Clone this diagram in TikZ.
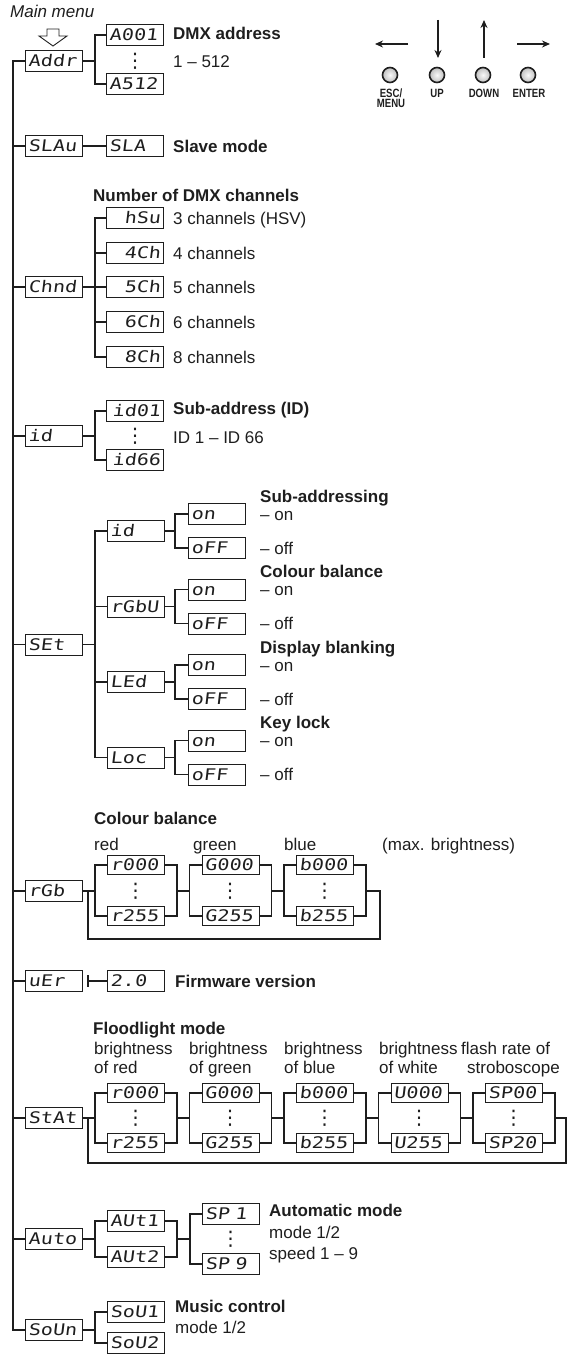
\documentclass[tikz,border=0pt]{standalone}
\usepackage{fontspec}
\setmainfont{Liberation Sans}
\newfontfamily\segfont{DejaVu Sans Mono}[FakeStretch=1.25,FakeSlant=0.12]
\newfontfamily\dotsfont{DejaVu Sans}
\newfontfamily\condfont{Liberation Sans}[FakeStretch=0.8]
\usetikzlibrary{arrows.meta}
\definecolor{ink}{HTML}{1E1E1E}
\tikzset{
  disp/.style={draw=ink, line width=0.9pt, minimum width=57pt, minimum height=21pt,
    inner sep=0pt, text width=51pt, align=left, text height=11.5pt, text depth=0pt,
    font=\segfont\fontsize{16}{16}\selectfont, anchor=west, text=ink},
  dispr/.style={disp, align=right},
  val/.style={disp, minimum height=19pt},
  conn/.style={draw=ink, line width=1.4pt},
  lbl/.style={anchor=west, inner sep=0pt, text height=12pt, text depth=0pt,
    font=\fontsize{17}{20}\selectfont, text=ink},
  head/.style={lbl, font=\bfseries\fontsize{17}{20}\selectfont},
  vd/.style={inner sep=0pt, font=\dotsfont\fontsize{20}{20}\selectfont, text=ink},
  btn/.style={circle, minimum size=15pt, inner sep=0pt, draw=ink, line width=1.6pt,
    inner color=gray!5, outer color=gray!50},
  btnlbl/.style={inner sep=0pt, anchor=north, font=\condfont\bfseries\fontsize{12}{11}\selectfont,
    align=center, text=ink},
  key/.style={draw=ink, line width=1.3pt, -{Stealth[length=8pt,width=7pt]}},
}
\begin{document}
\begin{tikzpicture}[x=1pt,y=-1pt]
\useasboundingbox (0,0) rectangle (568,1354);
\coordinate (m) at (13,0);
\coordinate (b1) at (95,0);
\coordinate (b2) at (175,0);

% ---------- top ----------
\node[lbl, font=\itshape\fontsize{17}{20}\selectfont] (mainmenu) at (10,12) {Main menu};
\draw[ink, line width=0.9pt] (47,29) -- (59,29) -- (59,36) -- (67,36) -- (53,46) -- (39,36) -- (47,36) -- cycle;

\node[btn] (esc) at (390,75) {};
\node[btn] (upb) at (437,75) {};
\node[btn] (downb) at (483,75) {};
\node[btn] (enterb) at (528,75) {};
\node[btnlbl] (escl) at (391,89) {ESC/\\[-1.5pt]MENU};
\node[btnlbl] (upl) at (437,89) {UP};
\node[btnlbl] (downl) at (484,89) {DOWN};
\node[btnlbl] (enterl) at (529,89) {ENTER};
\coordinate (la1) at (408,44); \coordinate (la2) at (375,44);
\coordinate (da1) at (438,20); \coordinate (da2) at (438,58);
\coordinate (ua1) at (484,58); \coordinate (ua2) at (484,20);
\coordinate (ra1) at (517,44); \coordinate (ra2) at (550,44);
\draw[key] (la1) -- (la2);
\draw[key] (da1) -- (da2);
\draw[key] (ua1) -- (ua2);
\draw[key] (ra1) -- (ra2);

% ---------- Addr ----------
\node[disp] (addr) at (25,61) {Addr};
\node[disp] (a001) at (106,35) {A001};
\node[disp] (a512) at (106,84) {A512};
\node[vd] (d1) at (135,61) {⋮};
\node[head] (t1) at (173,34) {DMX address};
\node[lbl] (t2) at (173,61) {1 – 512};
\draw[conn] (addr.east) -- (addr.east -| b1);
\draw[conn] (a001.west) -| (b1 |- a512.west) -- (a512.west);

% ---------- SLAu ----------
\node[disp] (slau) at (25,146) {SLAu};
\node[disp] (sla) at (106,146) {SLA};
\draw[conn] (slau.east) -- (sla.west);
\node[head] (t3) at (173,146) {Slave mode};

% ---------- Chnd ----------
\node[head] (t4) at (93,195) {Number of DMX channels};
\node[disp] (chnd) at (25,287) {Chnd};
\node[dispr] (hsu) at (106,218) {hSu};
\node[dispr] (c4) at (106,253) {4Ch};
\node[dispr] (c5) at (106,287) {5Ch};
\node[dispr] (c6) at (106,322) {6Ch};
\node[dispr] (c8) at (106,357) {8Ch};
\node[lbl] at (173,218) {3 channels (HSV)};
\node[lbl] at (173,253) {4 channels};
\node[lbl] at (173,287) {5 channels};
\node[lbl] at (173,322) {6 channels};
\node[lbl] at (173,357) {8 channels};
\draw[conn] (chnd.east) -- (c5.west);
\draw[conn] (hsu.west) -| (b1 |- c8.west) -- (c8.west);
\draw[conn] (c4.west) -- (c4.west -| b1);
\draw[conn] (c6.west) -- (c6.west -| b1);

% ---------- id ----------
\node[disp] (id) at (25,436) {id};
\node[dispr] (id01) at (106,411) {id01};
\node[dispr] (id66) at (106,460) {id66};
\node[vd] (d2) at (135,436) {⋮};
\node[head] at (173,408) {Sub-address (ID)};
\node[lbl] at (173,437) {ID 1 – ID 66};
\draw[conn] (id.east) -- (id.east -| b1);
\draw[conn] (id01.west) -| (b1 |- id66.west) -- (id66.west);

% ---------- SEt ----------
\node[disp] (set) at (25,644.5) {SEt};
\node[disp] (sid) at (107,531) {id};
\node[disp] (rgbu) at (107,606.5) {rGbU};
\node[disp] (led) at (107,682) {LEd};
\node[disp] (loc) at (107,757.5) {Loc};
\draw[conn] (set.east) -- (set.east -| b1);
\draw[conn] (sid.west) -| (b1 |- loc.west) -- (loc.west);
\draw[conn] (rgbu.west) -- (rgbu.west -| b1);
\draw[conn] (led.west) -- (led.west -| b1);

\node[disp] (on1) at (188,514) {on};
\node[disp] (off1) at (188,548) {oFF};
\node[disp] (on2) at (188,589.5) {on};
\node[disp] (off2) at (188,623.5) {oFF};
\node[disp] (on3) at (188,665) {on};
\node[disp] (off3) at (188,699) {oFF};
\node[disp] (on4) at (188,740.5) {on};
\node[disp] (off4) at (188,774.5) {oFF};

\draw[conn] (sid.east) -- (sid.east -| b2);
\draw[conn] (on1.west) -| (b2 |- off1.west) -- (off1.west);
\draw[conn] (rgbu.east) -- (rgbu.east -| b2);
\draw[conn] (on2.west) -| (b2 |- off2.west) -- (off2.west);
\draw[conn] (led.east) -- (led.east -| b2);
\draw[conn] (on3.west) -| (b2 |- off3.west) -- (off3.west);
\draw[conn] (loc.east) -- (loc.east -| b2);
\draw[conn] (on4.west) -| (b2 |- off4.west) -- (off4.west);

\node[head] at (260,496) {Sub-addressing};
\node[lbl] at (260,514) {– on};
\node[lbl] at (260,548) {– off};
\node[head] at (260,571.5) {Colour balance};
\node[lbl] at (260,589.5) {– on};
\node[lbl] at (260,623.5) {– off};
\node[head] at (260,647) {Display blanking};
\node[lbl] at (260,665) {– on};
\node[lbl] at (260,699) {– off};
\node[head] at (260,722.5) {Key lock};
\node[lbl] at (260,740.5) {– on};
\node[lbl] at (260,774.5) {– off};

% ---------- rGb ----------
\node[head] at (94,818) {Colour balance};
\node[lbl] at (94,844) {red};
\node[lbl] at (193,844) {green};
\node[lbl] at (284,844) {blue};
\node[lbl] at (382,844) {(max. brightness)};
\node[disp] (rgb) at (25,891) {rGb};
\node[val] (r0) at (107,865) {r000};
\node[val] (r1) at (107,916) {r255};
\node[val] (g0) at (201.5,865) {G000};
\node[val] (g1) at (201.5,916) {G255};
\node[val] (bb0) at (296,865) {b000};
\node[val] (bb1) at (296,916) {b255};
\node[vd] at (135.5,891) {⋮};
\node[vd] at (230,891) {⋮};
\node[vd] at (324.5,891) {⋮};
\coordinate (rL0) at (95,891);
\coordinate (rR0) at (177,891);
\coordinate (rL1) at (189.5,891);
\coordinate (rR1) at (271.5,891);
\coordinate (rL2) at (284,891);
\coordinate (rR2) at (366,891);
\coordinate (rLa) at (88,891);
\coordinate (rLb) at (380,891);
\draw[conn] (rgb.east) -- (rL0);
\draw[conn] (r0.west) -| (rL0 |- r1.west) -- (r1.west);
\draw[conn] (r0.east) -| (rR0 |- r1.east) -- (r1.east);
\draw[conn] (rR0) -- (rL1);
\draw[conn] (g0.west) -| (rL1 |- g1.west) -- (g1.west);
\draw[conn] (g0.east) -| (rR1 |- g1.east) -- (g1.east);
\draw[conn] (rR1) -- (rL2);
\draw[conn] (bb0.west) -| (rL2 |- bb1.west) -- (bb1.west);
\draw[conn] (bb0.east) -| (rR2 |- bb1.east) -- (bb1.east);
\draw[conn] (rR2) -- (rLb) -- ++(0,48) -| (rLa);

% ---------- uEr ----------
\node[disp] (uer) at (25,981) {uEr};
\node[disp] (v20) at (107,981) {2.0};
\coordinate (ut) at (88,981);
\draw[conn] (ut) -- (v20.west);
\draw[conn] (ut) ++(0,-6) -- ++(0,12);
\node[head] at (175,981) {Firmware version};

% ---------- StAt ----------
\node[head] at (93,1028) {Floodlight mode};
\node[lbl] at (94,1048) {brightness};
\node[lbl] at (189,1048) {brightness};
\node[lbl] at (284,1048) {brightness};
\node[lbl] at (379,1048) {brightness};
\node[lbl] at (461,1048) {flash rate of};
\node[lbl] at (94,1067) {of red};
\node[lbl] at (189,1067) {of green};
\node[lbl] at (284,1067) {of blue};
\node[lbl] at (379,1067) {of white};
\node[lbl] at (467,1067) {stroboscope};
\node[disp] (stat) at (25,1118) {StAt};
\node[val] (s0a) at (107,1093) {r000};
\node[val] (s0b) at (107,1143) {r255};
\node[val] (s1a) at (201.5,1093) {G000};
\node[val] (s1b) at (201.5,1143) {G255};
\node[val] (s2a) at (296,1093) {b000};
\node[val] (s2b) at (296,1143) {b255};
\node[val] (s3a) at (390.5,1093) {U000};
\node[val] (s3b) at (390.5,1143) {U255};
\node[val] (s4a) at (485,1093) {SP00};
\node[val] (s4b) at (485,1143) {SP20};
\node[vd] at (135.5,1118) {⋮};
\node[vd] at (230,1118) {⋮};
\node[vd] at (324.5,1118) {⋮};
\node[vd] at (419,1118) {⋮};
\node[vd] at (513.5,1118) {⋮};
\coordinate (sL0) at (95,1118);
\coordinate (sR0) at (177,1118);
\coordinate (sL1) at (189.5,1118);
\coordinate (sR1) at (271.5,1118);
\coordinate (sL2) at (284,1118);
\coordinate (sR2) at (366,1118);
\coordinate (sL3) at (378.5,1118);
\coordinate (sR3) at (460.5,1118);
\coordinate (sL4) at (473,1118);
\coordinate (sR4) at (555,1118);
\coordinate (sLa) at (88,1118);
\coordinate (sLb) at (566,1118);
\draw[conn] (stat.east) -- (sL0);
\draw[conn] (s0a.west) -| (sL0 |- s0b.west) -- (s0b.west);
\draw[conn] (s0a.east) -| (sR0 |- s0b.east) -- (s0b.east);
\draw[conn] (sR0) -- (sL1);
\draw[conn] (s1a.west) -| (sL1 |- s1b.west) -- (s1b.west);
\draw[conn] (s1a.east) -| (sR1 |- s1b.east) -- (s1b.east);
\draw[conn] (sR1) -- (sL2);
\draw[conn] (s2a.west) -| (sL2 |- s2b.west) -- (s2b.west);
\draw[conn] (s2a.east) -| (sR2 |- s2b.east) -- (s2b.east);
\draw[conn] (sR2) -- (sL3);
\draw[conn] (s3a.west) -| (sL3 |- s3b.west) -- (s3b.west);
\draw[conn] (s3a.east) -| (sR3 |- s3b.east) -- (s3b.east);
\draw[conn] (sR3) -- (sL4);
\draw[conn] (s4a.west) -| (sL4 |- s4b.west) -- (s4b.west);
\draw[conn] (s4a.east) -| (sR4 |- s4b.east) -- (s4b.east);
\draw[conn] (sR4) -- (sLb) -- ++(0,45) -| (sLa);

% ---------- Auto ----------
\node[disp] (auto) at (25,1239) {Auto};
\node[disp] (aut1) at (107,1221) {AUt1};
\node[disp] (aut2) at (107,1257) {AUt2};
\node[disp] (sp1) at (202,1214) {SP 1};
\node[disp] (sp9) at (202,1264) {SP 9};
\node[vd] at (230.5,1239) {⋮};
\coordinate (aL) at (95,1239);
\coordinate (aR) at (177,1239);
\coordinate (aL2) at (190,1239);
\draw[conn] (auto.east) -- (aL);
\draw[conn] (aut1.west) -| (aL |- aut2.west) -- (aut2.west);
\draw[conn] (aut1.east) -| (aR |- aut2.east) -- (aut2.east);
\draw[conn] (aR) -- (aL2);
\draw[conn] (sp1.west) -| (aL2 |- sp9.west) -- (sp9.west);
\node[head] at (269,1210) {Automatic mode};
\node[lbl] at (269,1232) {mode 1/2};
\node[lbl] at (269,1253) {speed 1 – 9};

% ---------- SoUn ----------
\node[disp] (soun) at (25,1330) {SoUn};
\node[disp] (sou1) at (107,1312) {SoU1};
\node[disp] (sou2) at (107,1343) {SoU2};
\draw[conn] (soun.east) -- (soun.east -| b1);
\draw[conn] (sou1.west) -| (b1 |- sou2.west) -- (sou2.west);
\node[head] at (175,1306) {Music control};
\node[lbl] at (175,1327) {mode 1/2};

% ---------- main line ----------
\draw[conn] (addr.west) -| (m |- soun.west) -- (soun.west);
\draw[conn] (slau.west) -- (slau.west -| m);
\draw[conn] (chnd.west) -- (chnd.west -| m);
\draw[conn] (id.west) -- (id.west -| m);
\draw[conn] (set.west) -- (set.west -| m);
\draw[conn] (rgb.west) -- (rgb.west -| m);
\draw[conn] (uer.west) -- (uer.west -| m);
\draw[conn] (stat.west) -- (stat.west -| m);
\draw[conn] (auto.west) -- (auto.west -| m);
\end{tikzpicture}
\end{document}
